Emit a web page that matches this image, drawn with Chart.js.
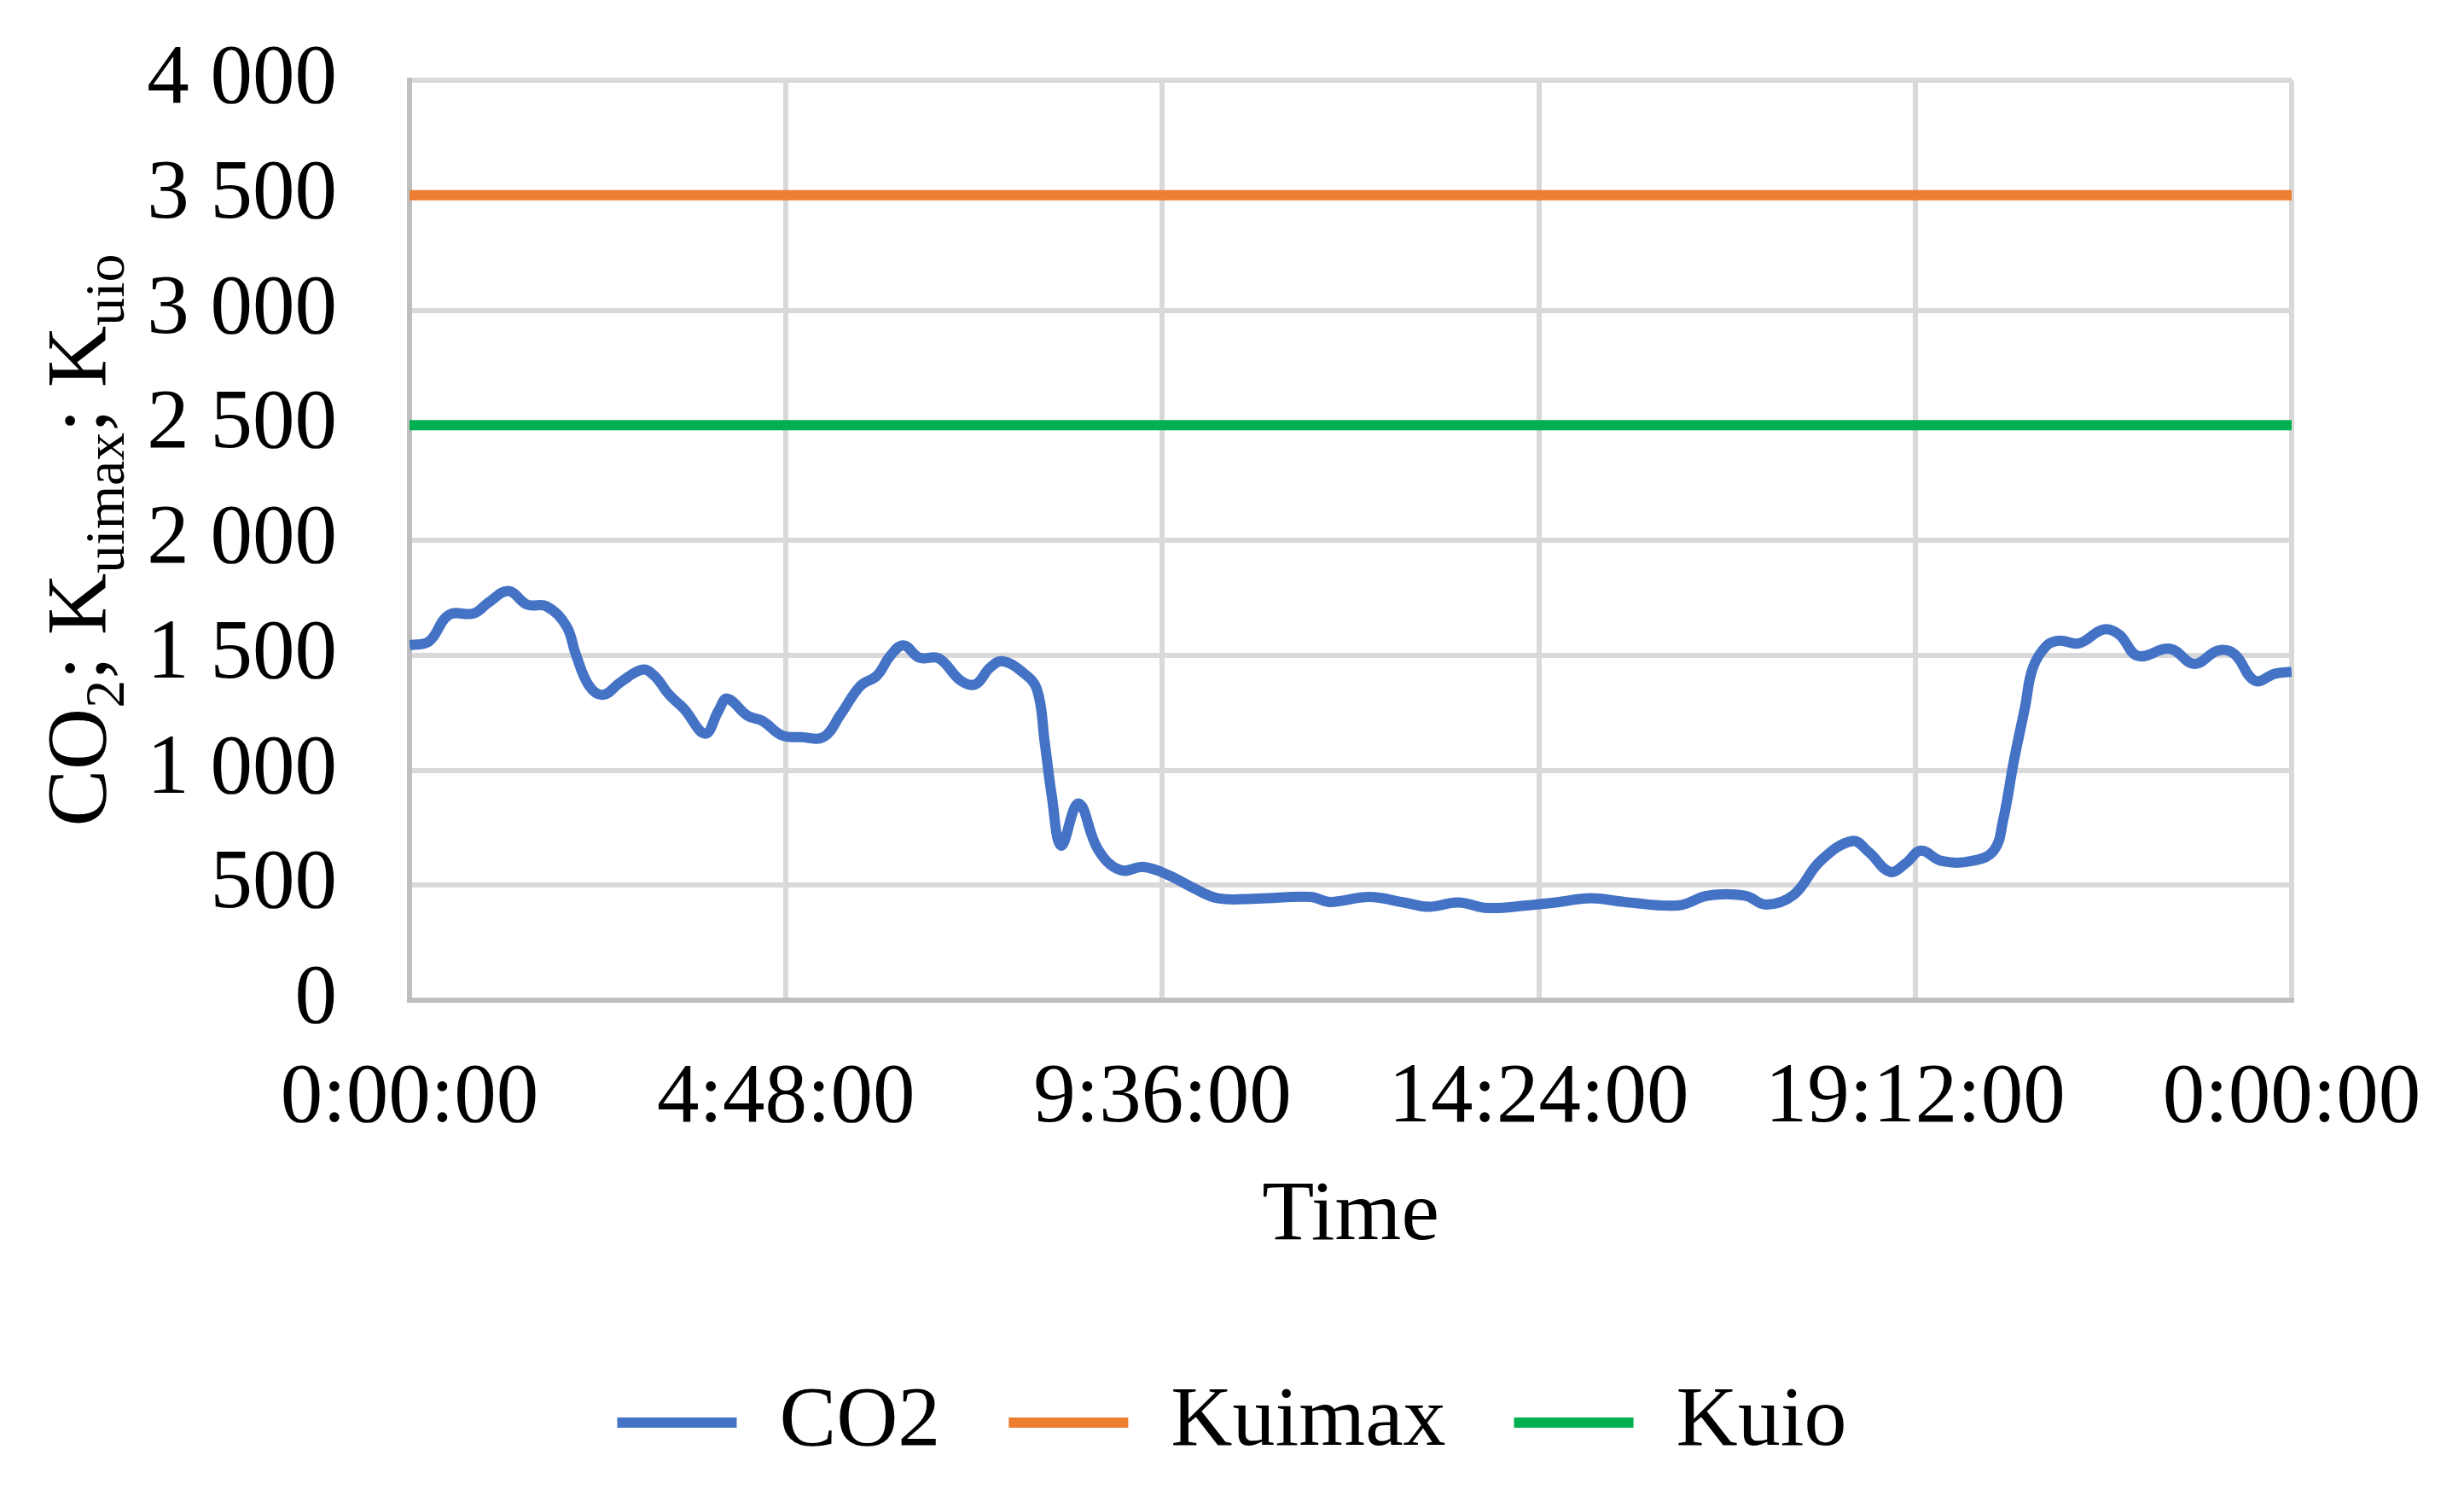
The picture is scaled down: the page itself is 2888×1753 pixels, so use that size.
<!DOCTYPE html>
<html>
<head>
<meta charset="utf-8">
<title>CO2 chart</title>
<script src="https://cdn.jsdelivr.net/npm/chart.js@4.4.1/dist/chart.umd.min.js"></script>
<style>
  html, body { margin: 0; padding: 0; background: #fff; }
  canvas { display: block; }
</style>
</head>
<body>
<canvas id="co2Chart" width="2888" height="1753"></canvas>
<script>
// Time of day in hours
const co2Hours = [
  0, 0.25, 0.5, 0.82, 1.0, 1.26, 1.5, 1.75, 2.0, 2.12, 2.29, 2.47, 2.69, 2.97,
  3.12, 3.31, 3.5, 3.77, 3.94, 4.05, 4.31, 4.5, 4.75, 5.0, 5.28, 5.5, 5.75, 5.96,
  6.13, 6.3, 6.5, 6.75, 7.03, 7.22, 7.4, 7.56, 7.81, 8.0, 8.1, 8.19, 8.31, 8.53,
  8.78, 9.06, 9.37, 9.69, 10.0, 10.31, 10.81, 11.49, 11.74, 12.24, 12.68, 13.0,
  13.37, 13.75, 14.25, 14.62, 15.06, 15.5, 16.18, 16.55, 17.03, 17.3, 17.65,
  17.99, 18.4, 18.61, 18.88, 19.09, 19.27, 19.54, 19.92, 20.2, 20.32, 20.46,
  20.6, 20.7, 20.88, 21.04, 21.29, 21.6, 21.8, 22.04, 22.45, 22.76, 23.06,
  23.27, 23.53, 23.79, 24.0
];
const co2Values = [
  1543, 1560, 1675, 1682, 1727, 1779, 1720, 1712, 1627, 1504, 1367, 1328, 1382, 1437,
  1411, 1328, 1267, 1159, 1259, 1311, 1237, 1214, 1151, 1144, 1144, 1244, 1367, 1411,
  1497, 1543, 1489, 1486, 1389, 1374, 1445, 1474, 1428, 1352, 1120, 888, 672, 855,
  655, 566, 579, 542, 487, 443, 442, 449, 427, 449, 425, 406,
  425, 401, 412, 425, 443, 427, 412, 454, 454, 416, 458,
  605, 692, 643, 558, 598, 650, 605, 605, 650, 781, 1044,
  1274, 1445, 1543, 1563, 1552, 1612, 1590, 1497, 1528, 1462, 1520,
  1505, 1389, 1420, 1428
];

const limitHours = [0, 24];
const kuimaxValues = [3500, 3500];
const kuioValues = [2500, 2500];

const xTickHours = [0, 4.8, 9.6, 14.4, 19.2, 24];
const xTickLabels = ["0:00:00", "4:48:00", "9:36:00", "14:24:00", "19:12:00", "0:00:00"];
const yTickLabels = ["0", "500", "1 000", "1 500", "2 000", "2 500", "3 000", "3 500", "4 000"];

const FONT = "'Liberation Serif', 'Times New Roman', serif";

function toPoints(xs, ys) {
  return xs.map((x, i) => ({ x: x, y: ys[i] }));
}

function gridColor(ctx) {
  return ctx.tick && ctx.tick.value === 0 ? "#bfbfbf" : "#d9d9d9";
}

// rotated y title with subscripts: CO2; Kuimax; Kuio
const yTitlePlugin = {
  id: "yTitle",
  afterDraw(chart) {
    const ctx = chart.ctx;
    const parts = [
      { t: "CO", sub: false },
      { t: "2", sub: true },
      { t: "; K", sub: false },
      { t: "uimax", sub: true },
      { t: "; K", sub: false },
      { t: "uio", sub: true }
    ];
    const mainFont = "100px " + FONT;
    const subFont = "66px " + FONT;
    ctx.save();
    let total = 0;
    parts.forEach(p => {
      ctx.font = p.sub ? subFont : mainFont;
      p.w = ctx.measureText(p.t).width;
      total += p.w;
    });
    const area = chart.chartArea;
    ctx.translate(123, (area.top + area.bottom) / 2);
    ctx.rotate(-Math.PI / 2);
    ctx.fillStyle = "#000";
    ctx.textBaseline = "alphabetic";
    ctx.textAlign = "left";
    let x = -total / 2;
    parts.forEach(p => {
      ctx.font = p.sub ? subFont : mainFont;
      ctx.fillText(p.t, x, p.sub ? 22 : 0);
      x += p.w;
    });
    ctx.restore();
  }
};

const chart = new Chart(document.getElementById("co2Chart"), {
  type: "line",
  data: {
    datasets: [
      {
        label: "CO2",
        data: toPoints(co2Hours, co2Values),
        borderColor: "#4472C4",
        backgroundColor: "#4472C4",
        borderWidth: 12,
        pointRadius: 0,
        tension: 0.4
      },
      {
        label: "Kuimax",
        data: toPoints(limitHours, kuimaxValues),
        borderColor: "#ED7D31",
        backgroundColor: "#ED7D31",
        borderWidth: 12,
        pointRadius: 0
      },
      {
        label: "Kuio",
        data: toPoints(limitHours, kuioValues),
        borderColor: "#00B050",
        backgroundColor: "#00B050",
        borderWidth: 12,
        pointRadius: 0
      }
    ]
  },
  options: {
    responsive: false,
    animation: false,
    layout: {
      padding: { left: 0, right: 0, top: 94, bottom: 26 }
    },
    scales: {
      x: {
        type: "linear",
        min: 0,
        max: 24,
        afterBuildTicks: axis => {
          axis.ticks = xTickHours.map(v => ({ value: v }));
        },
        afterFit: axis => {
          axis.height = 365;
          axis.paddingRight = 202;
        },
        ticks: {
          color: "#000",
          font: { family: FONT, size: 99 },
          padding: 57,
          maxRotation: 0,
          autoSkip: false,
          callback: (v, i) => xTickLabels[i]
        },
        grid: { color: gridColor, lineWidth: 6, drawTicks: false },
        border: { color: "#bfbfbf", width: 6 },
        title: {
          display: true,
          text: "Time",
          color: "#000",
          font: { family: FONT, size: 100 },
          padding: { top: 0, bottom: 51 }
        }
      },
      y: {
        min: 0,
        max: 4000,
        afterBuildTicks: axis => {
          axis.ticks = yTickLabels.map((l, i) => ({ value: i * 500 }));
        },
        afterFit: axis => {
          axis.width = 480;
          axis.paddingTop = 0;
          axis.paddingBottom = 0;
        },
        ticks: {
          color: "#000",
          font: { family: FONT, size: 99 },
          padding: 85,
          callback: (v, i) => yTickLabels[i]
        },
        grid: { color: gridColor, lineWidth: 6, drawTicks: false },
        border: { color: "#bfbfbf", width: 6 }
      }
    },
    plugins: {
      legend: {
        position: "bottom",
        labels: {
          color: "#000",
          font: { family: FONT, size: 100 },
          boxWidth: 140,
          boxHeight: 12,
          padding: 80,
          generateLabels: c =>
            Chart.defaults.plugins.legend.labels.generateLabels(c).map(l => ({ ...l, lineWidth: 0 }))
        }
      },
      tooltip: { enabled: false }
    }
  },
  plugins: [yTitlePlugin]
});
</script>
</body>
</html>
